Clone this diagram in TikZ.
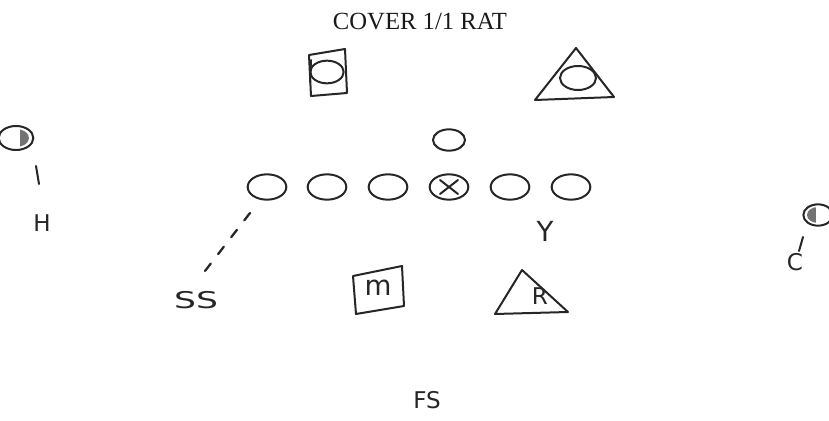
\documentclass[tikz,border=0pt]{standalone}
\usepackage{fontspec}
\setmainfont{Liberation Serif}
\newfontfamily\handfont{DejaVu Sans}
\usetikzlibrary{shapes.geometric,calc}
\tikzset{
  pen/.style={line width=1.5pt, draw=black!85, line cap=round, line join=round},
  player/.style={pen, ellipse, minimum width=29pt, minimum height=19pt, inner sep=0pt},
  hand/.style={font=\handfont\LARGE, text=black!85},
}
\begin{document}
\begin{tikzpicture}[x=0.75pt,y=-0.75pt]
\useasboundingbox (0,0) rectangle (829,421);
% title
\node[font=\fontsize{18.5}{20}\selectfont, text=black!90] (title) at (420,22) {COVER 1/1 RAT};
% top left defender in box
\draw[pen] (309,55) -- (345,49) -- (347,93) -- (311,96) -- cycle;
\node[pen, ellipse, minimum width=25pt, minimum height=17pt, inner sep=0pt] (lb1) at (327,72) {};
\draw[pen] (311,60) -- (310,82);
% top right defender in triangle
\draw[pen] (576,48) -- (614,97) -- (535,100) -- cycle;
\node[pen, ellipse, minimum width=27pt, minimum height=18pt, inner sep=0pt] (lb2) at (578,78) {};
% H receiver
\begin{scope}
  \clip (16,138) ellipse (13 and 9);
  \fill[black!55] (20,125) rectangle (32,150);
\end{scope}
\node[player, minimum width=26pt, minimum height=18pt] (h) at (16,138) {};
\coordinate (ht1) at (36,166);
\coordinate (ht2) at (39,184);
\draw[pen] (ht1) -- (ht2);
\node[hand] (hl) at (42,223) {H};
% center / ball
\node[player, minimum width=24pt, minimum height=16pt] (ctr) at (449,140) {};
% line
\node[player] (o1) at (267,187) {};
\node[player] (o2) at (327,187) {};
\node[player] (o3) at (388,187) {};
\node[player] (o4) at (449,187) {};
\draw[pen] ($(o4.center)+(-9,-7)$) -- ($(o4.center)+(9,7)$);
\draw[pen] ($(o4.center)+(-9,7)$) -- ($(o4.center)+(9,-7)$);
\node[player] (o5) at (510,187) {};
\node[player] (o6) at (571,187) {};
% SS dashed
\coordinate (ssa) at (250,213);
\coordinate (ssb) at (205,271);
\draw[pen, line width=1.7pt, dash pattern=on 7pt off 9pt] (ssa) -- (ssb);
\node[hand, xscale=1.5] (ss) at (196,300) {SS};
% Y
\node[hand, font=\handfont\huge] (y) at (545,231) {Y};
% C receiver
\begin{scope}
  \clip (818,215) ellipse (11 and 8);
  \fill[black!55] (805,205) rectangle (816,225);
\end{scope}
\node[player, minimum width=22pt, minimum height=16pt] (c) at (818,215) {};
\coordinate (ct1) at (803,237);
\coordinate (ct2) at (799,251);
\draw[pen] (ct1) -- (ct2);
\node[hand] (cl) at (795,262) {C};
% M box
\draw[pen] (353,276) -- (402,266) -- (404,306) -- (356,314) -- cycle;
\node[hand, font=\handfont\huge] (m) at (378,288) {m};
% R triangle
\draw[pen] (522,270) -- (568,312) -- (495,314) -- cycle;
\node[hand] (r) at (540,296) {R};
% FS
\node[hand] (fs) at (427,400) {FS};
\end{tikzpicture}
\end{document}
